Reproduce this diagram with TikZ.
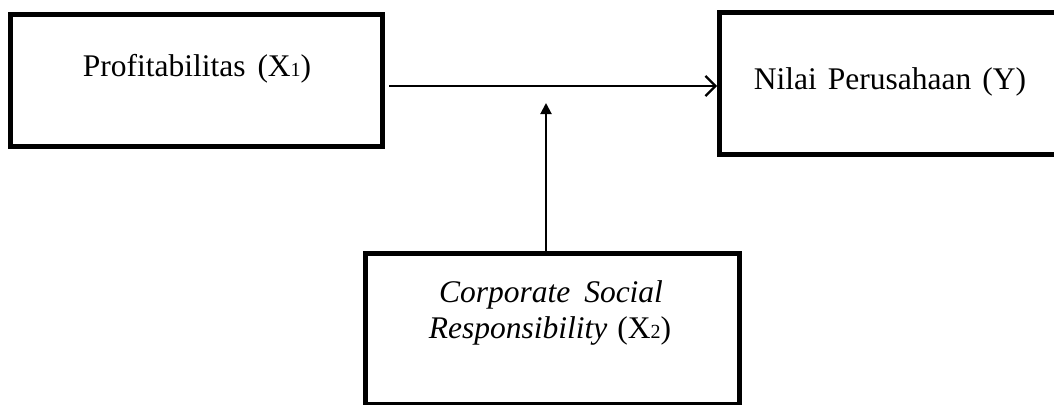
\documentclass[tikz,border=0pt]{standalone}
\usepackage{fontspec}
\setmainfont{Liberation Serif}
\usetikzlibrary{arrows.meta}

\tikzset{
  varbox/.style={draw, line width=5pt, rectangle, inner sep=0pt},
  vartext/.style={anchor=base, inner sep=0pt, font=\fontsize{31.5}{38}\selectfont},
  mainarrow/.style={line width=2pt, -{Straight Barb[length=10pt,width=20pt,line width=2.2pt]}},
  modarrow/.style={line width=2pt, -{Triangle[length=11pt,width=11pt]}}
}
\newcommand{\smalldigit}[1]{{\fontsize{20}{20}\selectfont #1}}

\begin{document}
\begin{tikzpicture}[x=1pt, y=-1pt]
  \useasboundingbox (0,0) rectangle (1054,404);
  \clip (0,0) rectangle (1054,404);

  % the three variable boxes
  \node[varbox, minimum width=372.5pt, minimum height=132pt] (profit) at (196.25,80.5) {};
  \node[varbox, minimum width=345.5pt, minimum height=142pt] (nilai) at (892.25,83.5) {};
  \node[varbox, minimum width=374pt, minimum height=151pt] (csr) at (552,329) {};

  % box texts
  \node[vartext] (profit_txt) at (197,77) {Profitabilitas\hspace{12pt}(X\smalldigit{1})};
  \node[vartext] (nilai_txt) at (890,89) {Nilai\hspace{11pt}Perusahaan\hspace{11pt}(Y)};
  \node[vartext] (csr_txt1) at (551,302) {\textit{Corporate\hspace{14pt}Social}};
  \node[vartext] (csr_txt2) at (550,338) {\textit{Responsibility}\hspace{10pt}(X\smalldigit{2})};

  % arrows
  \coordinate (main_start) at (389,86);    % helper
  \coordinate (mod_end) at (546,103);      % helper
  \draw[mainarrow] (main_start) -- (nilai.west |- main_start);
  \draw[modarrow] (csr.north -| mod_end) -- (mod_end);
\end{tikzpicture}
\end{document}
